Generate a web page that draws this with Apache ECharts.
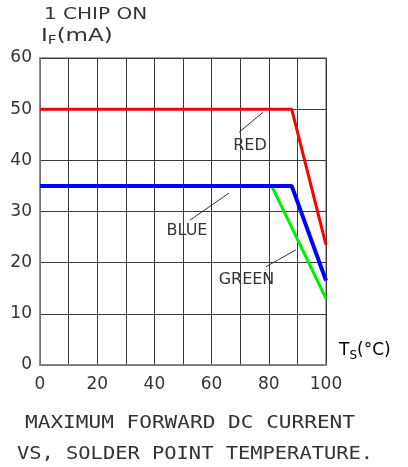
<!DOCTYPE html>
<html><head><meta charset="utf-8">
<script src="https://cdn.jsdelivr.net/npm/echarts@6/dist/echarts.min.js"></script>
<style>html,body{margin:0;padding:0;background:#fff}#c{width:408px;height:467px}</style>
</head><body><div id="c"></div>
<script>
var xTicks = [0, 20, 40, 60, 80, 100];
var yTicks = [0, 10, 20, 30, 40, 50, 60];
var redData = [[0, 50], [88, 50], [100, 23.5]];
var blueData = [[0, 35], [88, 35], [100, 16.5]];
var greenData = [[81, 35], [100, 13]];
var redLeader = [[78, 49.4], [69.6, 45.5]];
var blueLeader = [[66.1, 33.6], [52.4, 28.3]];
var greenLeader = [[89.5, 22.5], [79, 19.2]];
var redLabel = [73.4, 42.8];
var blueLabel = [51.4, 26.2];
var greenLabel = [72.2, 16.6];

var font = 'DejaVu Sans';
var txt = '#333';
function leader(pts) {
  return { silent: true, symbol: 'none', label: { show: false },
    lineStyle: { color: '#333', width: 1, type: 'solid' },
    data: [[{ coord: pts[0] }, { coord: pts[1] }]] };
}
function tag(name, pos) {
  return { silent: true, symbol: 'circle', symbolSize: 1,
    itemStyle: { color: 'rgba(0,0,0,0)' },
    label: { show: true, position: 'inside', formatter: name, color: txt, fontFamily: font, fontSize: 16 },
    data: [{ coord: pos }] };
}
var chart = echarts.init(document.getElementById('c'));
chart.setOption({
  animation: false,
  grid: { left: 40, right: 82, top: 58, bottom: 102 },
  xAxis: {
    type: 'value', min: 0, max: 100, interval: 10,
    axisLine: { show: true, lineStyle: { color: '#888', width: 1.5 } },
    axisTick: { show: false },
    axisLabel: { color: txt, fontFamily: font, fontSize: 17, margin: 11,
      formatter: function (v) { return xTicks.indexOf(v) >= 0 ? String(v) : ''; } },
    splitLine: { show: true, lineStyle: { color: '#3a3a3a', width: 1 } }
  },
  yAxis: {
    type: 'value', min: 0, max: 60, interval: 10,
    axisLine: { show: true, lineStyle: { color: '#888', width: 1.5 } },
    axisTick: { show: false },
    axisLabel: { color: txt, fontFamily: font, fontSize: 17, margin: 8,
      formatter: function (v) { return yTicks.indexOf(v) >= 0 ? String(v) : ''; } },
    splitLine: { show: true, lineStyle: { color: '#3a3a3a', width: 1 } }
  },
  graphic: [
    { type: 'rect', shape: { x: 40, y: 58, width: 286, height: 307 }, style: { fill: 'none', stroke: '#888', lineWidth: 1.5 }, silent: true },
    { type: 'text', x: 44, y: 7, scaleX: 1.25, style: { text: '1 CHIP ON', fill: txt, font: '16px "DejaVu Sans"' } },
    { type: 'text', x: 41, y: 25, scaleX: 1.28, style: { text: '{a|I}{b|F}{a|(mA)}', fill: txt,
      rich: { a: { fontFamily: font, fontSize: 18, color: txt }, b: { fontFamily: font, fontSize: 12, color: txt, padding: [10, 0, 0, 0] } } } },
    { type: 'text', x: 339, y: 340, style: { text: '{a|T}{b|S}{a|(°C)}',
      rich: { a: { fontFamily: font, fontSize: 17, color: txt }, b: { fontFamily: font, fontSize: 12, color: txt, padding: [10, 0, 0, 0] } } } },
    { type: 'text', x: 190, y: 415, scaleX: 1.24, style: { text: 'MAXIMUM FORWARD DC CURRENT', fill: txt, font: '17px "DejaVu Sans Mono"', align: 'center' } },
    { type: 'text', x: 195, y: 446, scaleX: 1.2, style: { text: 'VS, SOLDER POINT TEMPERATURE.', fill: txt, font: '17px "DejaVu Sans Mono"', align: 'center' } }
  ],
  series: [
    { type: 'line', data: redData, symbol: 'none', lineStyle: { color: '#ff0000', width: 3 }, z: 5,
      markLine: leader(redLeader), markPoint: tag('RED', redLabel) },
    { type: 'line', data: greenData, symbol: 'none', lineStyle: { color: '#00ee00', width: 3 }, z: 4,
      markLine: leader(greenLeader), markPoint: tag('GREEN', greenLabel) },
    { type: 'line', data: blueData, symbol: 'none', lineStyle: { color: '#0000ff', width: 4 }, z: 6,
      markLine: leader(blueLeader), markPoint: tag('BLUE', blueLabel) }
  ]
});
</script></body></html>
